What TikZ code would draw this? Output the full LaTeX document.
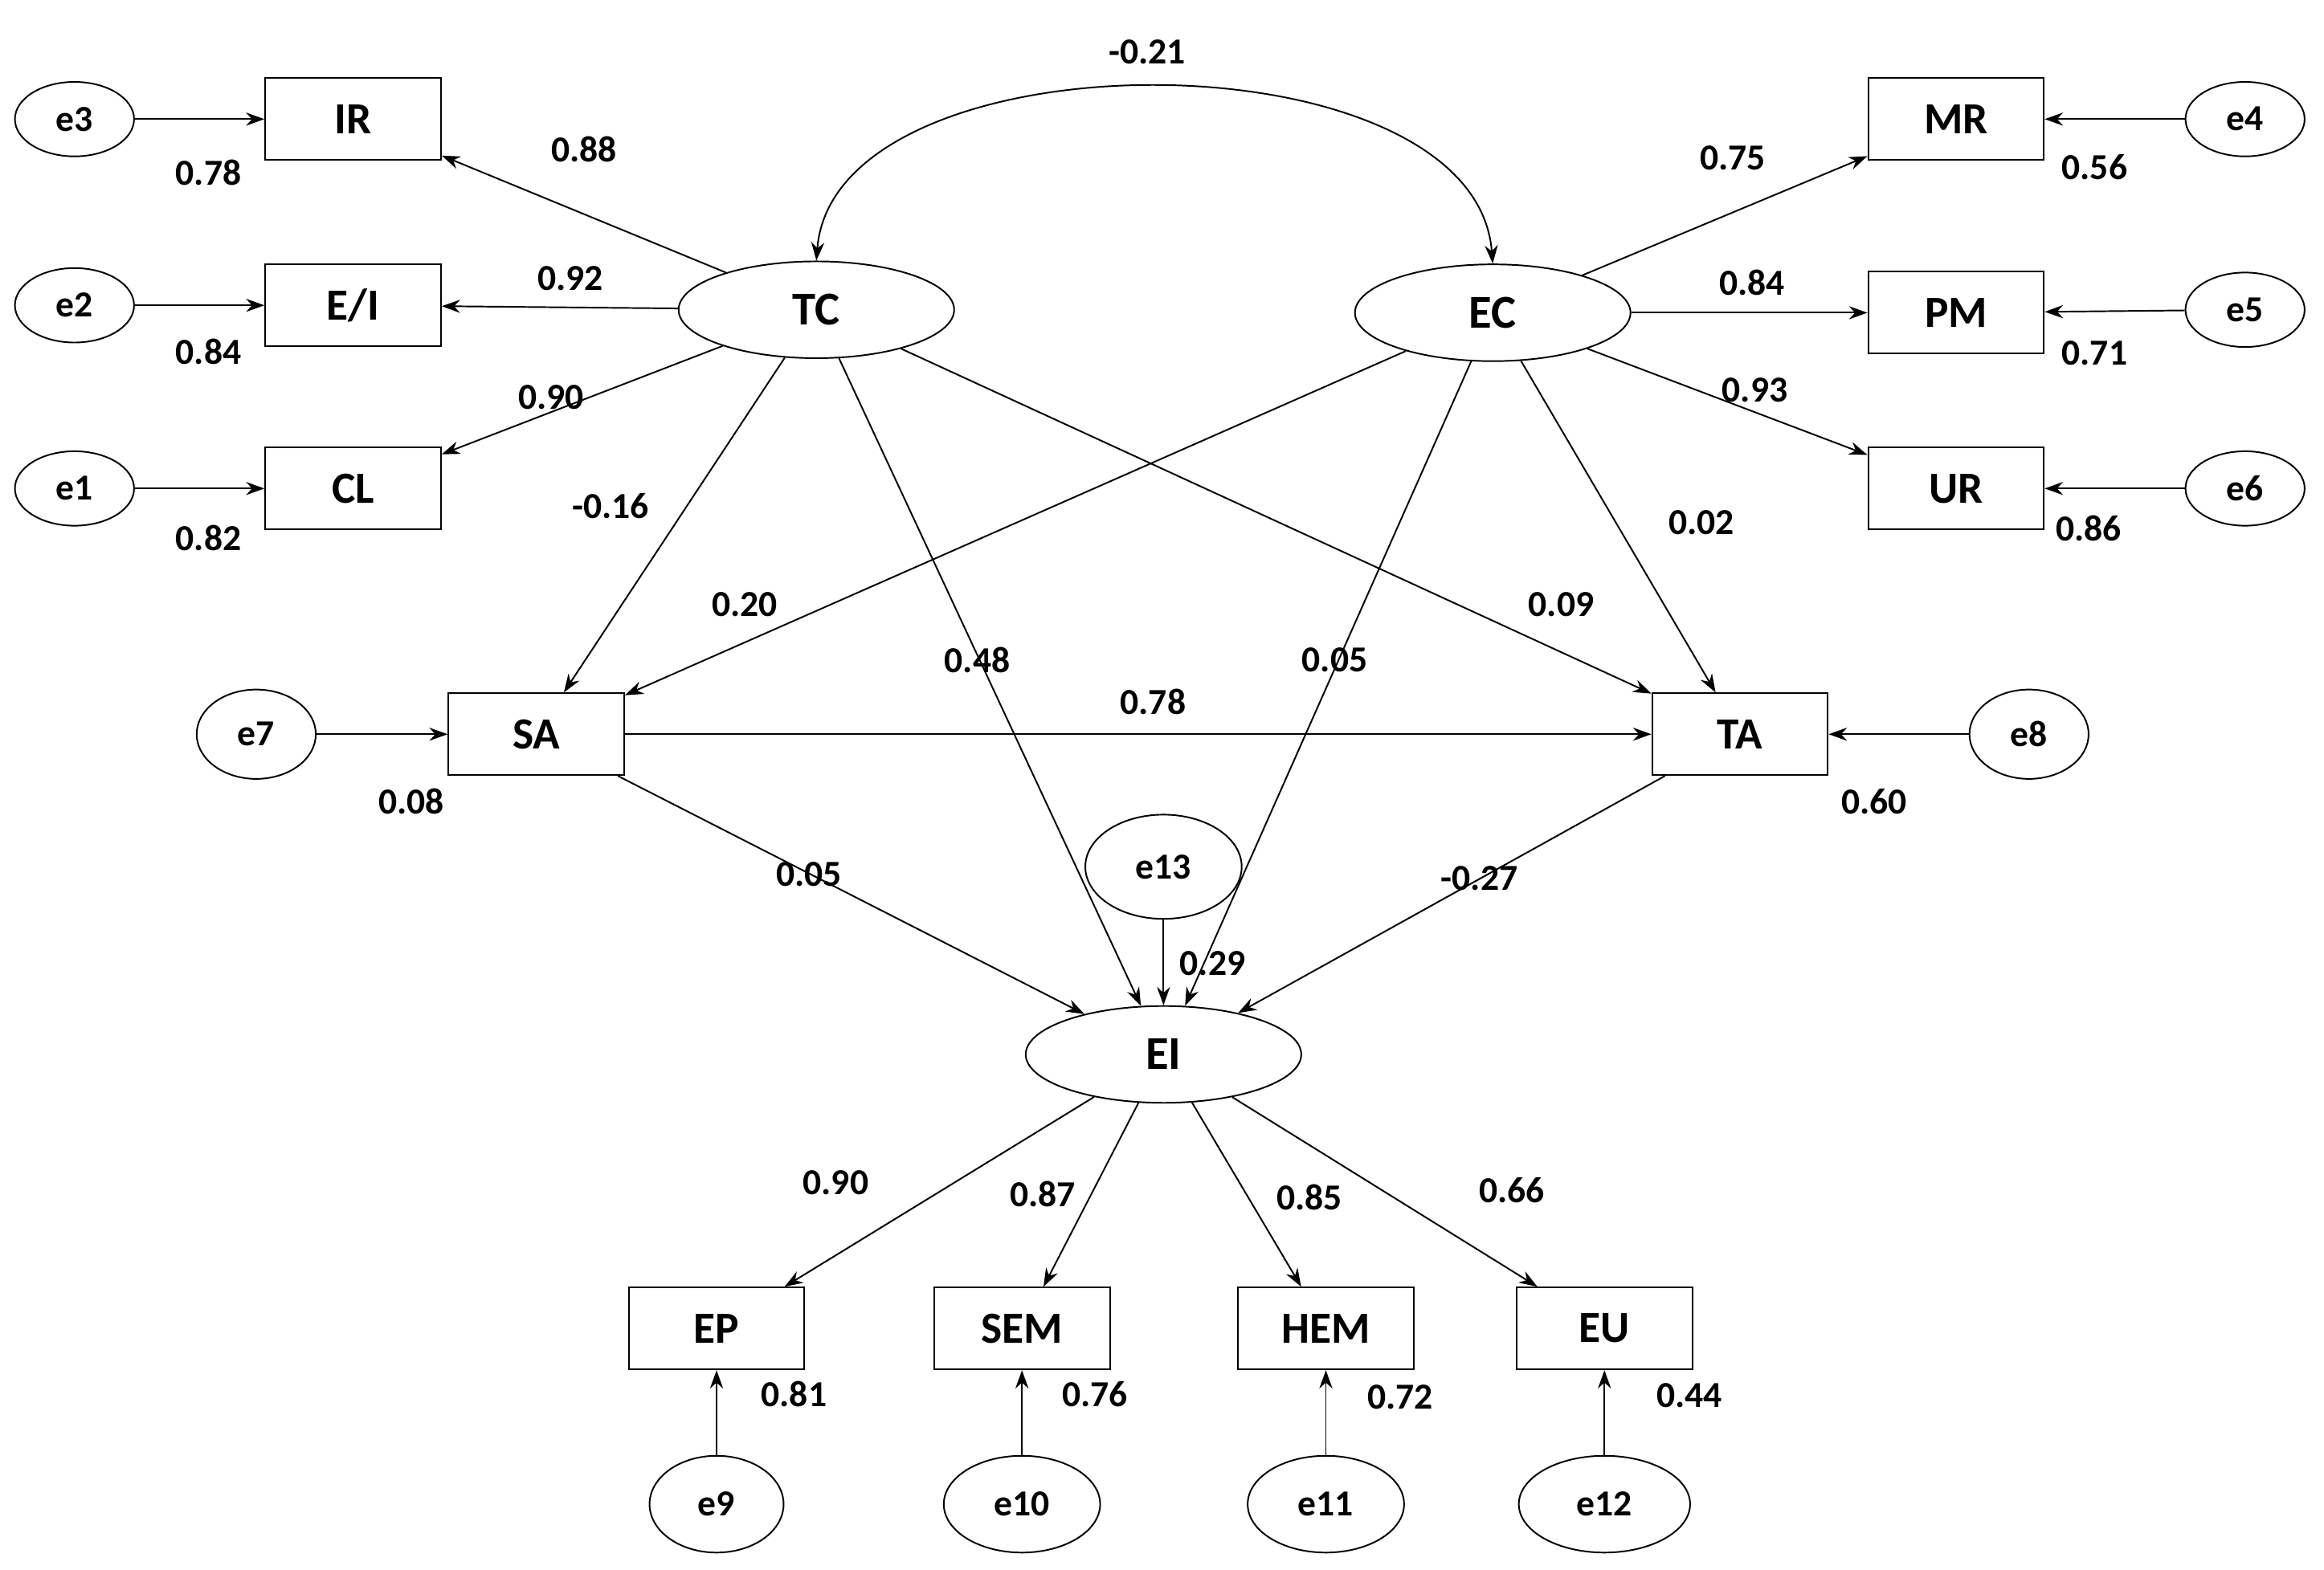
\documentclass[tikz,border=0pt]{standalone}
\usepackage{fontspec}
\setmainfont{Carlito}
\usetikzlibrary{shapes.geometric,arrows.meta}

\tikzset{
  obs/.style={draw,semithick,rectangle,minimum width=2.36cm,minimum height=1.1cm,font=\bfseries\fontsize{17}{17}\selectfont},
  err/.style={draw,semithick,ellipse,minimum width=1.6cm,minimum height=1.0cm,inner sep=0pt,font=\bfseries\fontsize{14}{14}\selectfont},
  lat/.style={draw,semithick,ellipse,minimum width=3.7cm,minimum height=1.3cm,font=\bfseries\fontsize{18}{18}\selectfont},
  path/.style={-{Stealth[length=7pt,width=5pt]},semithick},
  val/.style={font=\bfseries\fontsize{14}{14}\selectfont}
}

\begin{document}
\begin{tikzpicture}[x=0.02cm,y=-0.02cm]
\useasboundingbox (0,0) rectangle (1560,1054);
% latent variables
\node[lat] (TC) at (548,208) {TC};
\node[lat] (EC) at (1002,210) {EC};
\node[lat] (EI) at (781,708) {EI};
% indicators
\node[obs] (IR) at (237,80) {IR};
\node[obs] (EI2) at (237,205) {E/I};
\node[obs] (CL) at (237,328) {CL};
\node[obs] (MR) at (1313,80) {MR};
\node[obs] (PM) at (1313,210) {PM};
\node[obs] (UR) at (1313,328) {UR};
\node[obs] (SA) at (360,493) {SA};
\node[obs] (TA) at (1168,493) {TA};
\node[obs] (EP) at (481,892) {EP};
\node[obs] (SEM) at (686,892) {SEM};
\node[obs] (HEM) at (890,892) {HEM};
\node[obs] (EU) at (1077,892) {EU};
% errors
\node[err] (e3) at (50,80) {e3};
\node[err] (e2) at (50,205) {e2};
\node[err] (e1) at (50,328) {e1};
\node[err] (e4) at (1507,80) {e4};
\node[err] (e5) at (1507,208) {e5};
\node[err] (e6) at (1507,328) {e6};
\node[err,minimum height=1.2cm] (e7) at (172,493) {e7};
\node[err,minimum height=1.2cm] (e8) at (1362,493) {e8};
\node[err,minimum width=2.1cm,minimum height=1.4cm] (e13) at (781,582) {e13};
\node[err,minimum width=1.8cm,minimum height=1.3cm] (e9) at (481,1010) {e9};
\node[err,minimum width=2.1cm,minimum height=1.3cm] (e10) at (686,1010) {e10};
\node[err,minimum width=2.1cm,minimum height=1.3cm] (e11) at (890,1010) {e11};
\node[err,minimum width=2.3cm,minimum height=1.3cm] (e12) at (1077,1010) {e12};

% measurement paths
\foreach \a/\b in {TC/IR,TC/EI2,TC/CL,EC/MR,EC/PM,EC/UR,EI/EP,EI/SEM,EI/HEM,EI/EU,
  e3/IR,e2/EI2,e1/CL,e4/MR,e5/PM,e6/UR,e7/SA,e8/TA,e13/EI,e9/EP,e10/SEM,e11/HEM,e12/EU}
  \draw[path] (\a) -- (\b);
% structural paths
\foreach \a/\b in {TC/SA,TC/EI,TC/TA,EC/SA,EC/EI,EC/TA,SA/TA,SA/EI,TA/EI}
  \draw[path] (\a) -- (\b);
\draw[{Stealth[length=7pt,width=5pt]}-{Stealth[length=7pt,width=5pt]},semithick]
  (TC.north) .. controls (560,20) and (990,20) .. (EC.north);

% estimates
\node[val] (v1) at (770,35) {-0.21};
\node[val] (v2) at (392,100) {0.88};
\node[val] (v3) at (383,187) {0.92};
\node[val] (v4) at (370,267) {0.90};
\node[val] (v5) at (140,116) {0.78};
\node[val] (v6) at (140,236) {0.84};
\node[val] (v7) at (140,361) {0.82};
\node[val] (v8) at (1163,106) {0.75};
\node[val] (v9) at (1176,190) {0.84};
\node[val] (v10) at (1178,262) {0.93};
\node[val] (v11) at (1406,112) {0.56};
\node[val] (v12) at (1406,237) {0.71};
\node[val] (v13) at (1402,355) {0.86};
\node[val] (v14) at (410,340) {-0.16};
\node[val] (v15) at (500,406) {0.20};
\node[val] (v16) at (656,443) {0.48};
\node[val] (v17) at (896,443) {0.05};
\node[val] (v18) at (1048,406) {0.09};
\node[val] (v19) at (1142,351) {0.02};
\node[val] (v20) at (774,471) {0.78};
\node[val] (v21) at (276,538) {0.08};
\node[val] (v22) at (1258,538) {0.60};
\node[val] (v23) at (543,587) {0.05};
\node[val] (v24) at (993,590) {-0.27};
\node[val] (v25) at (814,647) {0.29};
\node[val] (v26) at (561,794) {0.90};
\node[val] (v27) at (700,802) {0.87};
\node[val] (v28) at (879,804) {0.85};
\node[val] (v29) at (1015,799) {0.66};
\node[val] (v30) at (533,936) {0.81};
\node[val] (v31) at (735,936) {0.76};
\node[val] (v32) at (940,938) {0.72};
\node[val] (v33) at (1134,937) {0.44};
\end{tikzpicture}
\end{document}
